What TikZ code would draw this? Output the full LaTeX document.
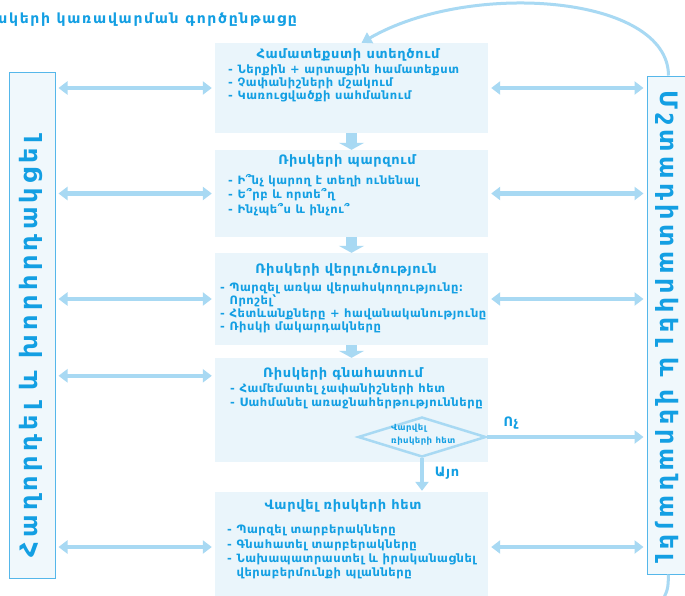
\documentclass[tikz,border=0pt]{standalone}
\usepackage{fontspec}
\setmainfont{DejaVu Sans}
\newfontfamily\spaced[LetterSpace=5]{DejaVu Sans}
\newfontfamily\titlespaced[LetterSpace=12]{DejaVu Sans}
\newfontfamily\widespaced[LetterSpace=18]{DejaVu Sans}
\usetikzlibrary{arrows.meta,shapes.geometric}
\definecolor{ink}{HTML}{139FE3}
\definecolor{pale}{HTML}{EAF5FB}
\definecolor{flow}{HTML}{A8D9F3}
\definecolor{edge}{HTML}{55B7EA}
\begin{document}
\begin{tikzpicture}[x=1pt,y=-1pt,
  stage/.style={fill=pale, draw=none, minimum width=273pt, inner sep=0pt},
  side/.style={fill=pale!70, draw=edge, line width=1pt, inner sep=0pt},
  heading/.style={text=ink, font=\spaced\bfseries\fontsize{13}{15}\selectfont, inner sep=0pt},
  items/.style={text=ink, align=left, anchor=north west, inner sep=0pt},
  sidetext/.style={text=ink, font=\widespaced\bfseries\fontsize{24}{28}\selectfont, inner sep=0pt},
  link/.style={draw=flow, line width=4.5pt, arrows={Triangle[width=13pt,length=9pt]-Triangle[width=13pt,length=9pt]}, shorten <=3pt, shorten >=3pt},
  oneway/.style={draw=flow, line width=4.5pt, arrows={-Triangle[width=13pt,length=9pt]}, shorten >=3pt},
  block/.style={draw=flow, line width=11pt, arrows={-Triangle[width=25pt,length=7pt]}},
  loopback/.style={draw=flow, line width=3pt},
]
\useasboundingbox (0,0) rectangle (685,595);
\clip (0,0) rectangle (685,595);
\fill[white] (0,0) rectangle (685,595);

% heading of the whole process
\node[anchor=base east, text=ink, inner sep=0pt, font=\titlespaced\bfseries\fontsize{14}{16}\selectfont] (title) at (297,23) {Ռիսկերի կառավարման գործընթացը};

% side boxes
\node[side, minimum width=46pt, minimum height=506pt] (lbox) at (32,325) {};
\node[side, minimum width=55pt, minimum height=498pt] (rbox) at (674.5,325) {};
\node[sidetext, rotate=90] (ltxt) at (31,347) {Հաղորդել և խորհրդակցել};
\node[sidetext, rotate=-90] (rtxt) at (667,326) {Մշտադիտարկել և վերանայել};

% process stages
\node[stage, minimum height=90pt] (b1) at (351.5,88) {};
\node[stage, minimum height=87pt] (b2) at (351.5,193.5) {};
\node[stage, minimum height=92pt] (b3) at (351.5,299) {};
\node[stage, minimum height=104pt] (b4) at (351.5,410) {};
\node[stage, minimum height=110pt] (b5) at (351.5,547) {};

\node[heading] (t1) at (348,55) {Համատեքստի ստեղծում};
\node[items, font=\spaced\bfseries\fontsize{11.5}{13}\selectfont] (i1) at (228,64.5) {- Ներքին + արտաքին համատեքստ\\- Չափանիշների մշակում\\- Կառուցվածքի սահմանում};

\node[heading] (t2) at (347,161) {Ռիսկերի պարզում};
\node[items, font=\spaced\bfseries\fontsize{11.5}{14.5}\selectfont] (i2) at (228,174) {- Ի՞նչ կարող է տեղի ունենալ\\- Ե՞րբ և որտե՞ղ\\- Ինչպե՞ս և ինչու՞};

\node[heading] (t3) at (346,270) {Ռիսկերի վերլուծություն};
\node[items, font=\spaced\bfseries\fontsize{11.5}{13}\selectfont] (i3) at (220,283) {- Պարզել առկա վերահսկողությունը։\\\phantom{- }Որոշել՝\\- Հետևանքները + հավանականությունը\\- Ռիսկի մակարդակները};

\node[heading] (t4) at (343,374) {Ռիսկերի գնահատում};
\node[items, font=\spaced\bfseries\fontsize{11.5}{14}\selectfont] (i4) at (230,383.5) {- Համեմատել չափանիշների հետ\\- Սահմանել առաջնահերթությունները};

\node[heading] (t5) at (343,506) {Վարվել ռիսկերի հետ};
\node[items, font=\spaced\bfseries\fontsize{11.5}{14.3}\selectfont] (i5) at (227,525) {- Պարզել տարբերակները\\- Գնահատել տարբերակները\\- Նախապատրաստել և իրականացնել\\\phantom{- }վերաբերմունքի պլանները};

% decision
\node[shape=diamond, draw=flow, line width=2.5pt, minimum width=128pt, minimum height=40pt, inner sep=0pt] (dec) at (422,437) {};
\node[text=ink, inner sep=0pt, align=left, anchor=west, font=\spaced\bfseries\fontsize{8.5}{12.5}\selectfont] (dect) at (391,434.5) {Վարվել\\ռիսկերի հետ};

% flow between stages
\draw[block] (b1.south) -- (b2.north);
\draw[block] (b2.south) -- (b3.north);
\draw[block] (b3.south) -- (b4.north);

% consultation and review links
\draw[link] (lbox.east |- b1.west) -- (b1.west);
\draw[link] (lbox.east |- b2.west) -- (b2.west);
\draw[link] (lbox.east |- b3.west) -- (b3.west);
\draw[link] (lbox.east |- b4.north west) ++(0,18) -- ([yshift=-18pt]b4.north west);
\draw[link] (lbox.east |- b5.west) -- (b5.west);
\draw[link] (b1.east) -- (rbox.west |- b1.east);
\draw[link] (b2.east) -- (rbox.west |- b2.east);
\draw[link] (b3.east) -- (rbox.west |- b3.east);
\draw[link] (b5.east) -- (rbox.west |- b5.east);

% decision outcomes
\draw[oneway] (dec.east) -- (rbox.west |- dec.east);
\node[text=ink, inner sep=0pt, font=\spaced\bfseries\fontsize{13}{15}\selectfont] (no) at (511,423) {Ոչ};
\draw[oneway, shorten >=1pt] (dec.south) -- (b5.north -| dec.south);
\node[text=ink, inner sep=0pt, font=\spaced\bfseries\fontsize{13}{15}\selectfont] (yes) at (447,473) {Այո};

% loop from review back to the start
\draw[loopback, arrows={-Triangle[width=12pt,length=10pt]}] ([xshift=-6pt]rbox.north) .. controls (668,-5) and (470,-20) .. ([xshift=10pt]b1.north);
\draw[loopback] ([xshift=-6pt]rbox.south) .. controls (668,590) .. (660,605);
\end{tikzpicture}
\end{document}
